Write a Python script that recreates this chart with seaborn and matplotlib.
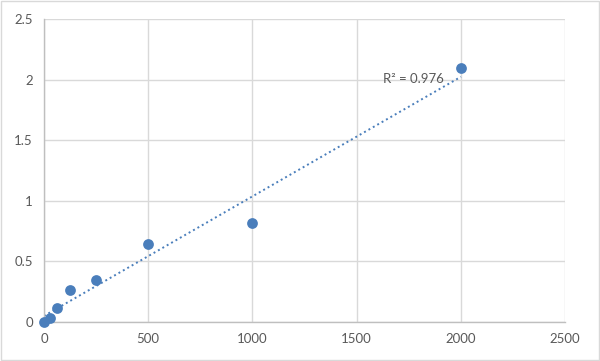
import numpy as np
import pandas as pd
import seaborn as sns
import matplotlib.pyplot as plt
from matplotlib.patches import Rectangle

# standard curve data
conc = [0, 31.25, 62.5, 125, 250, 500, 1000, 2000]
od = [0.0, 0.03, 0.11, 0.26, 0.345, 0.645, 0.815, 2.10]
r2_label = "R² = 0.976"

df = pd.DataFrame({"conc": conc, "od": od})

sns.set_style("white")
plt.rcParams["font.family"] = ["Lato", "DejaVu Sans"]

fig = plt.figure(figsize=(6, 3.61), dpi=100)
ax = fig.add_axes([0.0733, 0.109, 0.8687, 0.837])

blue = "#4a7ebb"

# linear trendline
slope, intercept = np.polyfit(df["conc"], df["od"], 1)
xs = np.array([0, 2000])
ax.plot(xs, slope * xs + intercept, linestyle=(0, (1, 1.6)), color=blue, lw=1.4, zorder=2)

sns.scatterplot(data=df, x="conc", y="od", ax=ax, color=blue, s=60,
                edgecolor=blue, linewidth=0, zorder=3, clip_on=False)

ax.set_xlim(0, 2500)
ax.set_ylim(0, 2.5)
ax.set_xticks([0, 500, 1000, 1500, 2000, 2500])
ax.set_yticks([0, 0.5, 1, 1.5, 2, 2.5])
ax.set_yticklabels(["0", "0.5", "1", "1.5", "2", "2.5"])
ax.grid(True, color="#d9d9d9", lw=1)
ax.set_axisbelow(True)
for side in ["top", "right"]:
    ax.spines[side].set_visible(False)
for side in ["left", "bottom"]:
    ax.spines[side].set_color("#bfbfbf")
    ax.spines[side].set_linewidth(1)
ax.tick_params(length=0, labelsize=9.5, labelcolor="#595959", pad=8)
ax.set_xlabel("")
ax.set_ylabel("")

ax.text(1625, 2.01, r2_label, fontsize=9.5, color="#595959", ha="left", va="center")

# chart border
fig.patches.append(Rectangle((0.002, 0.003), 0.996, 0.994, transform=fig.transFigure,
                             fill=False, edgecolor="#d9d9d9", lw=1))

fig.savefig("out.png", dpi=100)
